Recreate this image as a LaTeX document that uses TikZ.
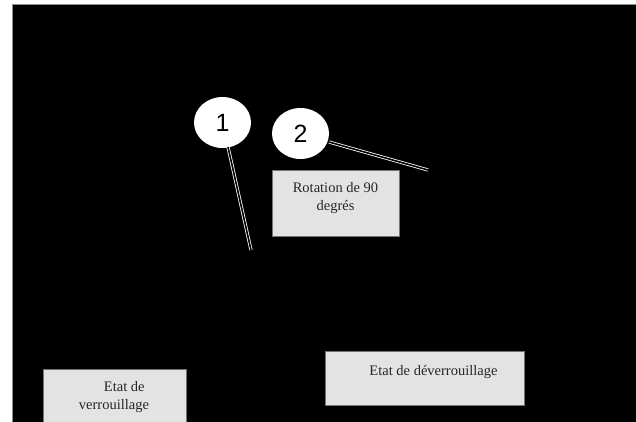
\documentclass[tikz,border=0pt]{standalone}
\usepackage{fontspec}
\setmainfont{Liberation Serif}
\newfontfamily\numfont{Liberation Sans}
\usetikzlibrary{shapes.geometric}
\begin{document}
\begin{tikzpicture}[x=1pt,y=-1pt,
  bubble/.style={ellipse, fill=white, minimum width=57pt, minimum height=51pt, inner sep=0pt},
  numtext/.style={font=\numfont\fontsize{25}{25}\selectfont},
  leader/.style={draw=white, double=black, double distance=1.6pt, line width=0.8pt},
  graybox/.style={fill=black!11, draw=black!55, line width=0.5pt, inner sep=0pt},
  boxtext/.style={font=\fontsize{14.5}{18}\selectfont, text=black!85, inner sep=0pt}]
\useasboundingbox (0,0) rectangle (636,421);
\fill[white] (0,0) rectangle (636,421);
\fill[black, draw=black!45, line width=0.6pt] (12,4) rectangle (637,422);
% leaders
\coordinate (e1) at (251,250);
\coordinate (e2) at (428,170);
\node[bubble] (c1) at (222.5,122.5) {};
\node[bubble] (c2) at (300.5,133.5) {};
\draw[leader] (228,147) -- (e1);
\draw[leader] (329,142) -- (e2);
\node[numtext] (n1) at (c1) {1};
\node[numtext] (n2) at (c2) {2};
% boxes
\node[graybox, minimum width=127pt, minimum height=66pt] (rot) at (335.5,203) {};
\node[boxtext, align=center] (rott) at (335.5,198.5) {Rotation de 90\\degrés};
\node[graybox, minimum width=143pt, minimum height=60pt] (ver) at (114.5,399) {};
\node[boxtext, align=left] (vert) at (114,397) {\hspace*{25pt}Etat de\\verrouillage};
\node[graybox, minimum width=199pt, minimum height=54pt] (dev) at (424.5,378) {};
\node[boxtext] (devt) at (433.5,372) {Etat de déverrouillage};
\end{tikzpicture}
\end{document}
